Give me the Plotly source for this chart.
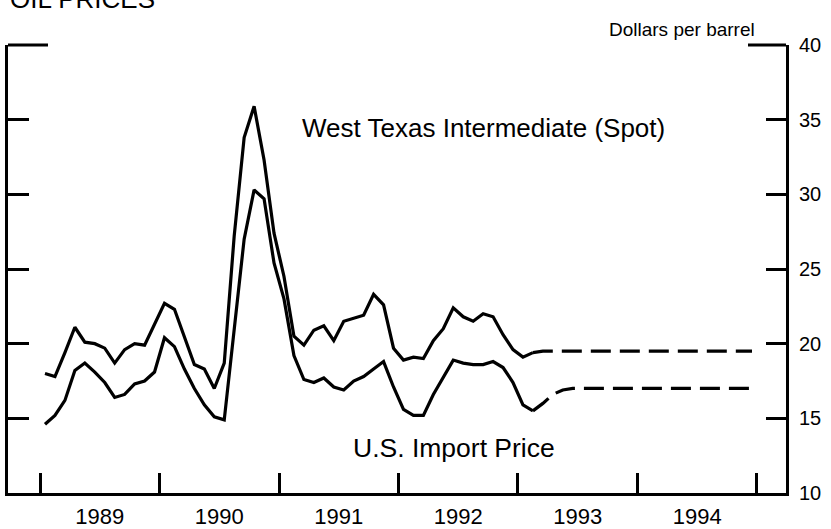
import plotly.graph_objects as go

# ---------------- data ----------------
start_year = 1989          # first plotted month: January 1989
# Monthly actuals, Jan 1989 .. Feb 1993 (dollars per barrel)
wti_actual = [
    18.0, 17.8, 19.4, 21.1, 20.1, 20.0, 19.7, 18.7, 19.6, 20.0, 19.9, 21.3,   # 1989
    22.7, 22.3, 20.5, 18.6, 18.3, 17.0, 18.7, 27.2, 33.8, 35.9, 32.3, 27.4,   # 1990
    24.5, 20.5, 19.9, 20.9, 21.2, 20.2, 21.5, 21.7, 21.9, 23.3, 22.6, 19.7,   # 1991
    18.9, 19.1, 19.0, 20.2, 21.0, 22.4, 21.8, 21.5, 22.0, 21.8, 20.6, 19.6,   # 1992
    19.1, 19.4,                                                               # 1993
]
import_actual = [
    14.6, 15.2, 16.2, 18.2, 18.7, 18.1, 17.4, 16.4, 16.6, 17.3, 17.5, 18.1,   # 1989
    20.4, 19.8, 18.3, 17.0, 15.9, 15.1, 14.9, 21.0, 27.0, 30.3, 29.7, 25.4,   # 1990
    23.0, 19.2, 17.6, 17.4, 17.7, 17.1, 16.9, 17.5, 17.8, 18.3, 18.8, 17.1,   # 1991
    15.6, 15.2, 15.2, 16.6, 17.8, 18.9, 18.7, 18.6, 18.6, 18.8, 18.4, 17.4,   # 1992
    15.9, 15.5,                                                               # 1993
]
# Projections, Feb 1993 .. Dec 1994
proj_start_month = 49      # index of Feb 1993 counted from Jan 1989
wti_proj = [
    19.4, 19.5, 19.5, 19.5, 19.5, 19.5, 19.5, 19.5, 19.5, 19.5, 19.5,
    19.5, 19.5, 19.5, 19.5, 19.5, 19.5, 19.5, 19.5, 19.5, 19.5, 19.5, 19.5,
]
import_proj = [
    15.5, 16.0, 16.6, 16.9, 17.0, 17.0, 17.0, 17.0, 17.0, 17.0, 17.0,
    17.0, 17.0, 17.0, 17.0, 17.0, 17.0, 17.0, 17.0, 17.0, 17.0, 17.0, 17.0,
]
year_labels = ["1989", "1990", "1991", "1992", "1993", "1994"]
year_bounds = [1989, 1990, 1991, 1992, 1993, 1994, 1995]
y_ticks = [10, 15, 20, 25, 30, 35, 40]

FONT = "Liberation Sans, Arial, Helvetica, sans-serif"


def month_x(i):
    return start_year + (i + 0.5) / 12.0


x_act = [month_x(i) for i in range(len(wti_actual))]
x_proj = [month_x(proj_start_month + i) for i in range(len(wti_proj))]

line_solid = dict(color="black", width=3.2)
line_dash = dict(color="black", width=3.2, dash="20px,9px")

fig = go.Figure()
fig.add_trace(go.Scatter(x=x_act, y=wti_actual, mode="lines", line=line_solid,
                         yaxis="y2", hoverinfo="skip"))
fig.add_trace(go.Scatter(x=x_act, y=import_actual, mode="lines", line=line_solid,
                         hoverinfo="skip"))
fig.add_trace(go.Scatter(x=x_proj, y=wti_proj, mode="lines", line=line_dash,
                         yaxis="y2", hoverinfo="skip"))
fig.add_trace(go.Scatter(x=x_proj, y=import_proj, mode="lines", line=line_dash,
                         hoverinfo="skip"))

axis_common = dict(showgrid=False, zeroline=False, showline=True,
                   linecolor="black", linewidth=3, automargin=False)

fig.update_layout(
    width=831, height=529,
    margin=dict(l=8, r=45, t=45, b=36),
    paper_bgcolor="white", plot_bgcolor="white",
    showlegend=False,
    font=dict(family=FONT, color="black"),
    xaxis=dict(
        **axis_common,
        range=[1988.732, 1995.243],
        tickmode="array",
        tickvals=[y + 0.5 for y in year_bounds[:-1]],
        ticktext=year_labels,
        ticks="",
        tickfont=dict(size=22, family=FONT, color="black"),
        ticklabelstandoff=2,
        minor=dict(tickmode="array", tickvals=year_bounds, ticks="inside",
                   ticklen=20, tickwidth=3, tickcolor="black", showgrid=False),
    ),
    yaxis=dict(
        **axis_common,
        range=[10, 40],
        tickmode="array",
        tickvals=y_ticks[1:-1],
        ticks="inside", ticklen=21, tickwidth=3, tickcolor="black",
        showticklabels=False,
    ),
    yaxis2=dict(
        **axis_common,
        overlaying="y", side="right",
        range=[10, 40],
        tickmode="array",
        tickvals=y_ticks,
        ticktext=[str(v) for v in y_ticks],
        ticks="inside", ticklen=20, tickwidth=3, tickcolor="black",
        tickfont=dict(size=20, family=FONT, color="black"),
        ticklabelstandoff=6,
    ),
    shapes=[
        dict(type="line", xref="paper", yref="paper", x0=0, x1=40 / 778, y0=1, y1=1,
             line=dict(color="black", width=3)),
        dict(type="line", xref="paper", yref="paper", x0=1 - 38 / 778, x1=1, y0=1, y1=1,
             line=dict(color="black", width=3)),
    ],
    annotations=[
        dict(text="OIL PRICES", xref="paper", yref="paper", x=0, y=1.064,
             xanchor="left", yanchor="bottom", showarrow=False,
             font=dict(size=26, family=FONT, color="black")),
        dict(text="Dollars per barrel", xref="paper", yref="paper", x=0.9627, y=1.0357,
             xanchor="right", yanchor="middle", showarrow=False,
             font=dict(size=19, family=FONT, color="black")),
        dict(text="West Texas Intermediate (Spot)", xref="x", yref="y", x=1992.715, y=34.44,
             xanchor="center", yanchor="middle", showarrow=False,
             font=dict(size=26, family=FONT, color="black")),
        dict(text="U.S. Import Price", xref="x", yref="y", x=1992.464, y=13.04,
             xanchor="center", yanchor="middle", showarrow=False,
             font=dict(size=26.5, family=FONT, color="black")),
    ],
)

fig.write_html(
    "out.html",
    config={"displayModeBar": False},
    post_script="document.body.style.margin='0';document.body.style.overflow='hidden';",
)
